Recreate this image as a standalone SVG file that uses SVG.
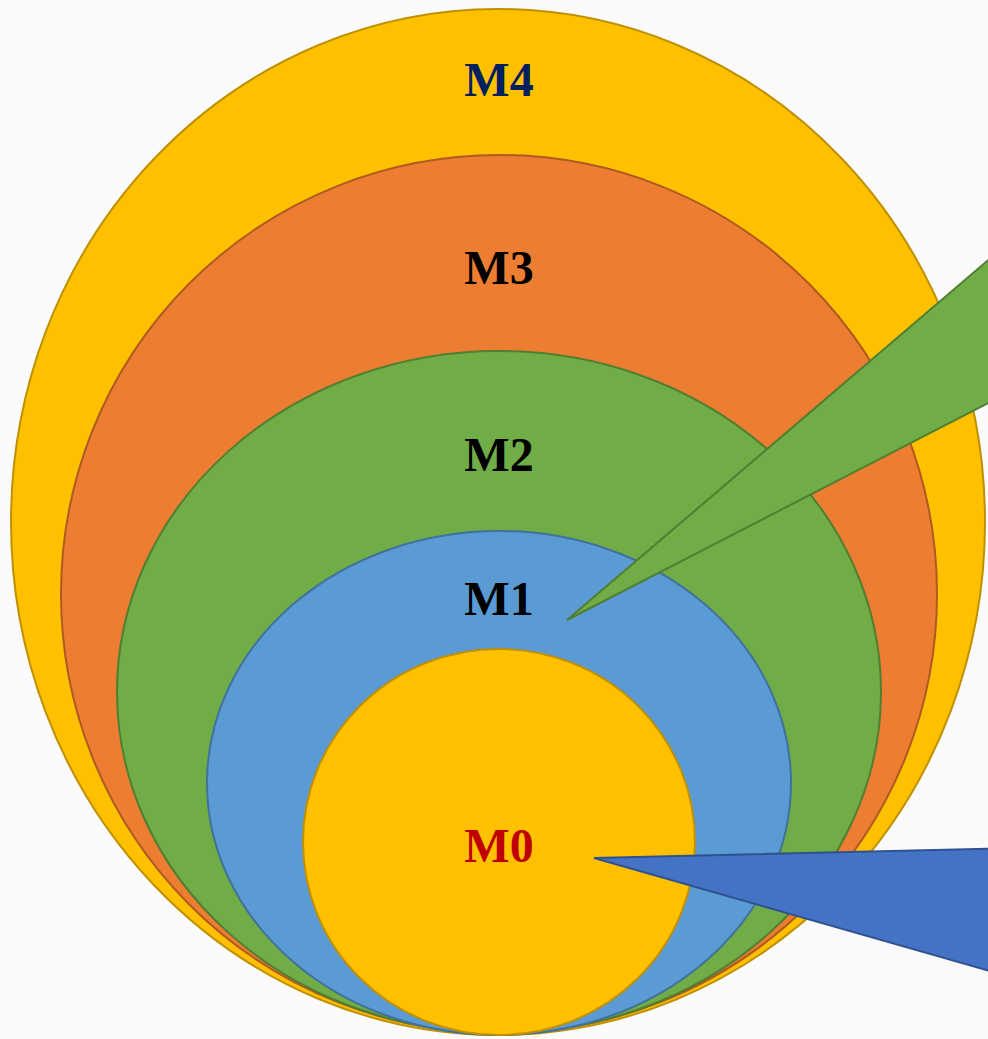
<svg xmlns="http://www.w3.org/2000/svg" width="988" height="1039" viewBox="0 0 988 1039">
<defs>
<radialGradient id="bg" cx="50%" cy="50%" r="70%">
<stop offset="0" stop-color="#ffffff"/>
<stop offset="1" stop-color="#f9f9f9"/>
</radialGradient>
</defs>
<style>
.lbl{font-family:"Liberation Serif","DejaVu Serif",serif;font-weight:bold;font-size:48px;text-anchor:middle}
.yel{fill:#FFC000;stroke:#BF9000;stroke-width:2}
.org{fill:#ED7D31;stroke:#AE5A21;stroke-width:2}
.grn{fill:#70AD47;stroke:#507E32;stroke-width:2}
.blu{fill:#5B9BD5;stroke:#41719C;stroke-width:2}
.cblu{fill:#4472C4;stroke:#2F528F;stroke-width:2}
</style>
<rect width="988" height="1039" fill="url(#bg)"/>
<g id="m4"><ellipse class="yel" cx="498" cy="522" rx="487" ry="513"/><text class="lbl" x="499" y="96" fill="#002060">M4</text></g>
<g id="m3"><ellipse class="org" cx="499" cy="594" rx="438" ry="439"/><text class="lbl" x="499" y="284" fill="#000">M3</text></g>
<g id="m2"><ellipse class="grn" cx="499" cy="692" rx="382" ry="341"/><text class="lbl" x="499" y="471" fill="#000">M2</text></g>
<g id="m1"><ellipse class="blu" cx="499" cy="783" rx="292" ry="252"/><text class="lbl" x="499" y="615" fill="#000">M1</text></g>
<g id="m0"><ellipse class="yel" cx="499" cy="842" rx="196" ry="193"/><text class="lbl" x="499" y="862" fill="#C00000">M0</text></g>
<g id="connectors">
<polygon class="grn" points="567,620 1000,250 1000,397"/>
<polygon class="cblu" points="594,858 1000,848.5 1000,974"/>
</g>
</svg>
